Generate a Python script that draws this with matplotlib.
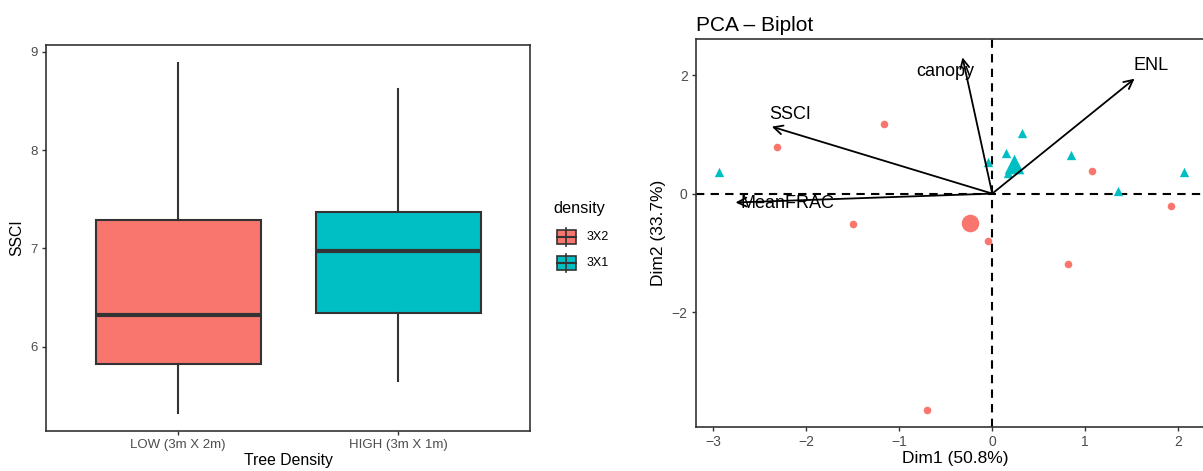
import numpy as np
import matplotlib.pyplot as plt
from matplotlib.patches import Rectangle

plt.rcParams['font.family'] = ['Liberation Sans', 'DejaVu Sans']

# boxplot summary for SSCI by planting density
groups = ["LOW (3m X 2m)", "HIGH (3m X 1m)"]
density_labels = ["3X2", "3X1"]
whislo = [5.32, 5.65]
q1 = [5.82, 6.34]
med = [6.32, 6.97]
q3 = [7.29, 7.37]
whishi = [8.89, 8.62]

# PCA individuals (Dim1, Dim2)
low_x = [-1.16, -2.31, -1.50, -0.05, 0.81, 1.07, 1.92, -0.70]
low_y = [1.18, 0.78, -0.51, -0.80, -1.18, 0.38, -0.21, -3.66]
high_x = [-2.94, -0.05, 0.15, 0.32, 0.17, 0.85, 1.35, 2.06]
high_y = [0.36, 0.53, 0.68, 1.03, 0.34, 0.66, 0.05, 0.37]

# PCA variable arrows
var_names = ["SSCI", "canopy", "ENL", "MeanFRAC"]
var_x = [-2.37, -0.32, 1.53, -2.76]
var_y = [1.13, 2.30, 1.94, -0.15]
lab_x = [-2.17, -0.51, 1.71, -2.20]
lab_y = [1.34, 2.06, 2.16, -0.17]

red = "#F8766D"
cyan = "#00BFC4"
dark = "#333333"
tick_col = "#4D4D4D"

W, H = 1203, 471
fig = plt.figure(figsize=(W / 100, H / 100), dpi=100)


def frac(x0, y0, x1, y1):
    return [x0 / W, 1 - y1 / H, (x1 - x0) / W, (y1 - y0) / H]


# ---- left: boxplot ----
ax1 = fig.add_axes(frac(46, 45, 530, 431))
stats = []
for i in range(2):
    stats.append(dict(whislo=whislo[i], q1=q1[i], med=med[i], q3=q3[i],
                      whishi=whishi[i], fliers=[]))
bp = ax1.bxp(stats, positions=[1, 2], widths=0.75, patch_artist=True,
             showcaps=False,
             boxprops=dict(edgecolor=dark, linewidth=1.5),
             whiskerprops=dict(color=dark, linewidth=1.5),
             medianprops=dict(color=dark, linewidth=3, solid_capstyle='butt'))
for patch, c in zip(bp["boxes"], [red, cyan]):
    patch.set_facecolor(c)
ax1.set_xlim(0.4, 2.6)
ax1.set_ylim(5.14, 9.07)
ax1.set_yticks([6, 7, 8, 9])
ax1.set_xticks([1, 2])
ax1.set_xticklabels(groups)
ax1.tick_params(colors=tick_col, labelsize=9.5, length=3, width=1, color=dark,
                pad=3)
for s in ax1.spines.values():
    s.set_color(dark)
    s.set_linewidth(1.2)
ax1.set_xlabel("Tree Density", fontsize=11.3, labelpad=1)
ax1.set_ylabel("SSCI", fontsize=11.3, labelpad=4)

# legend drawn as small boxplot glyphs
lax = fig.add_axes([0, 0, 1, 1], facecolor="none")
lax.set_xlim(0, W)
lax.set_ylim(H, 0)
lax.axis("off")
lax.text(553, 209, "density", fontsize=11.8, va="center", ha="left")
for j, (c, lab) in enumerate(zip([red, cyan], density_labels)):
    yc = 237 + j * 26
    lax.plot([566, 566], [yc - 9, yc + 9], color=dark, lw=1.2)
    lax.add_patch(Rectangle((557, yc - 7), 19, 14, facecolor=c,
                            edgecolor=dark, lw=1.2))
    lax.plot([557, 576], [yc, yc], color=dark, lw=1.5)
    lax.text(587, yc, lab, fontsize=9, va="center", ha="left")

# ---- right: PCA biplot ----
ax2 = fig.add_axes(frac(696, 39, 1215, 427))
ax2.set_xlim(-3.185, 2.395)
ax2.set_ylim(-3.94, 2.61)
ax2.axhline(0, color="black", ls=(0, (4, 3)), lw=1.5, zorder=1)
ax2.axvline(0, color="black", ls=(0, (4, 3)), lw=1.5, zorder=1)

ax2.scatter(low_x, low_y, s=30, color=red, marker="o", lw=0, zorder=3)
ax2.scatter(high_x, high_y, s=45, color=cyan, marker="^", lw=0, zorder=3)
ax2.scatter([np.mean(low_x)], [np.mean(low_y)], s=160, color=red,
            marker="o", lw=0, zorder=3)
ax2.scatter([np.mean(high_x)], [np.mean(high_y)], s=200, color=cyan,
            marker="^", lw=0, zorder=3)

for name, vx, vy, tx, ty in zip(var_names, var_x, var_y, lab_x, lab_y):
    ax2.annotate("", xy=(vx, vy), xytext=(0, 0),
                 arrowprops=dict(arrowstyle="->", color="black", lw=1.3,
                                 mutation_scale=16, shrinkA=0, shrinkB=0),
                 zorder=4)
    ax2.text(tx, ty, name, fontsize=13, ha="center", va="center", zorder=5)

ax2.set_xticks([-3, -2, -1, 0, 1, 2])
ax2.set_yticks([-2, 0, 2])
ax2.tick_params(colors=tick_col, labelsize=10, length=3, width=1, color=dark,
                pad=3)
for s in ax2.spines.values():
    s.set_color(dark)
    s.set_linewidth(1.2)
ax2.set_xlabel("Dim1 (50.8%)", fontsize=12.5, labelpad=1)
ax2.set_ylabel("Dim2 (33.7%)", fontsize=12.5, labelpad=4)
ax2.set_title("PCA \u2013 Biplot", fontsize=15, loc="left", pad=6, x=0.0)

fig.savefig("out.png", dpi=100)
